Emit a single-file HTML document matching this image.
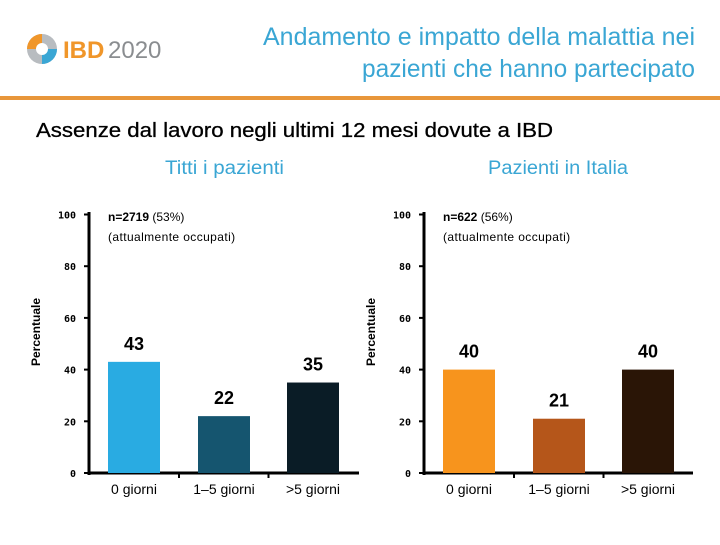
<!DOCTYPE html>
<html><head><meta charset="utf-8"><style>
body{margin:0;width:720px;height:540px;background:#fff;overflow:hidden;font-family:"Liberation Sans",sans-serif}
</style></head><body>
<svg width="720" height="540" xmlns="http://www.w3.org/2000/svg" id="svg">
<g>
<circle cx="42" cy="49" r="15" fill="#b8bcc0"/>
<path d="M42 34 A15 15 0 0 0 27 49 L42 49Z" fill="#f0962a"/>
<path d="M57 49 A15 15 0 0 1 42 64 L42 49Z" fill="#3aa6d4"/>
<circle cx="42" cy="49" r="6" fill="#fff"/>
<text x="63" y="58" font-size="24" fill="#f0962a" font-weight="bold">IBD</text>
<text x="108" y="58" font-size="24" fill="#8a8d90">2020</text>
</g>
<text x="263" y="45" textLength="432" lengthAdjust="spacingAndGlyphs" font-size="25" fill="#3aa6d4">Andamento e impatto della malattia nei</text>
<text x="362" y="77" textLength="333" lengthAdjust="spacingAndGlyphs" font-size="25" fill="#3aa6d4">pazienti che hanno partecipato</text>
<rect x="0" y="96" width="720" height="4" fill="#e8963a"/>
<text x="36" y="137" textLength="517" lengthAdjust="spacingAndGlyphs" font-size="20" fill="#000" stroke="#000" stroke-width="0.3">Assenze dal lavoro negli ultimi 12 mesi dovute a IBD</text>
<text x="165" y="174" textLength="119" lengthAdjust="spacingAndGlyphs" font-size="19" fill="#3aa6d4">Titti i pazienti</text>
<text x="488" y="174" textLength="140" lengthAdjust="spacingAndGlyphs" font-size="19" fill="#3aa6d4">Pazienti in Italia</text>
</svg>
<script>
const categories=["0 giorni","1–5 giorni",">5 giorni"];
const valuesAll=[43,22,35];
const valuesItaly=[40,21,40];
const yTicks=[0,20,40,60,80,100];
const colorsAll=["#29abe2","#15556f","#0a1c26"];
const colorsItaly=["#f7941d","#b5561a","#2a1506"];
const NS="http://www.w3.org/2000/svg";
const svg=document.getElementById('svg');
function mk(t,a,txt){const e=document.createElementNS(NS,t);for(const k in a)e.setAttribute(k,a[k]);if(txt!==undefined)e.textContent=txt;svg.appendChild(e);return e;}
function yS(v){return 473-v*2.585;}
function chart(ax,xEnd,bars,vals,cols,prefix,nBold,nRest){
  const ay=mk('line',{x1:ax,y1:212,x2:ax,y2:475,stroke:'#000','stroke-width':3});
  
  const axx=mk('line',{x1:ax-1,y1:473,x2:xEnd,y2:473,stroke:'#000','stroke-width':3});
  
  yTicks.forEach(t=>{
    const tk=mk('line',{x1:ax-5,y1:yS(t),x2:ax,y2:yS(t),stroke:'#000','stroke-width':2});
    
    const tl=mk('text',{x:ax-13,y:yS(t)+4,'text-anchor':'end','font-size':10,'font-weight':'bold','font-family':'DejaVu Sans Mono, monospace'},t);
    
  });
  [1,2].forEach(i=>{const x=(bars[i-1]+bars[i])/2+26;
    const tk=mk('line',{x1:x,y1:473,x2:x,y2:478,stroke:'#000','stroke-width':2});
    });
  const yl=mk('text',{x:0,y:0,'text-anchor':'middle','font-size':12,'font-weight':'bold',transform:`translate(${ax-49},332) rotate(-90)`},'Percentuale');
  
  const n=mk('text',{x:ax+19,y:221,'font-size':12});
  
  n.innerHTML=`<tspan font-weight="bold">${nBold}</tspan> ${nRest}`;
  const n2=mk('text',{x:ax+19,y:241,'font-size':12,'letter-spacing':0.4},'(attualmente occupati)');
  
  vals.forEach((v,i)=>{
    const b=mk('rect',{x:bars[i],y:yS(v),width:52,height:473-yS(v),fill:cols[i]});
    
    const vl=mk('text',{x:bars[i]+26,y:yS(v)-12,'text-anchor':'middle','font-size':18,'font-weight':'bold'},v);
    
    const cl=mk('text',{x:bars[i]+26,y:494,'text-anchor':'middle','font-size':14},categories[i]);
    
  });
}
chart(89,359,[108,198,287],valuesAll,colorsAll,'left-chart','n=2719','(53%)');
chart(424,693,[443,533,622],valuesItaly,colorsItaly,'right-chart','n=622','(56%)');
</script>
</body></html>
